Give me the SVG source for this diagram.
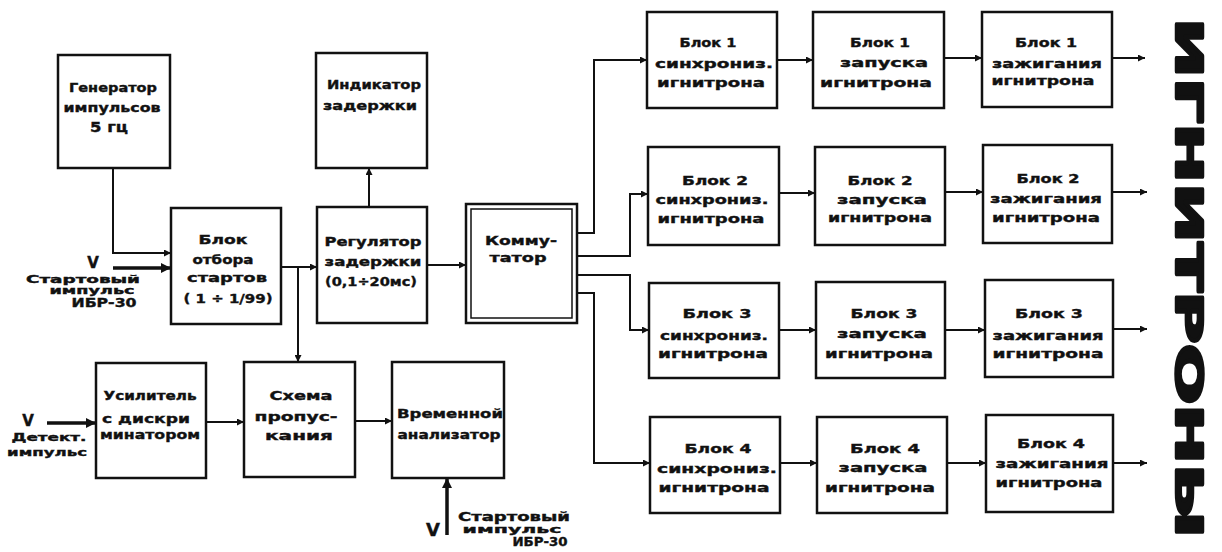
<svg xmlns="http://www.w3.org/2000/svg" width="1222" height="552" viewBox="0 0 1222 552">
<style>
.box{fill:#fff;stroke:#111;stroke-width:2.5}
.in{fill:none;stroke:#111;stroke-width:1.5}
.t{font-family:"DejaVu Sans","Liberation Sans",sans-serif;font-weight:bold;font-size:13px;text-anchor:middle;dominant-baseline:central;fill:#111;stroke:#111;stroke-width:0.4}
.s{font-size:11px}
.v{font-size:15px}
.ln{fill:none;stroke:#111;stroke-width:2}
.th{fill:none;stroke:#111;stroke-width:3.5}
</style>
<defs>
<marker id="a" viewBox="0 0 10 10" refX="10" refY="5" markerWidth="9" markerHeight="7" markerUnits="userSpaceOnUse" orient="auto"><path d="M0,0L10,5L0,10z" fill="#111"/></marker>
<marker id="b" viewBox="0 0 10 10" refX="10" refY="5" markerWidth="12" markerHeight="10" markerUnits="userSpaceOnUse" orient="auto"><path d="M0,0L10,5L0,10z" fill="#111"/></marker>
</defs>
<rect width="1222" height="552" fill="#fff"/>

<g id="gen"><rect class="box" x="58" y="55" width="112" height="113"/>
<text class="t" x="113" y="87" textLength="88" lengthAdjust="spacingAndGlyphs">Генератор</text>
<text class="t" x="112" y="107" textLength="97" lengthAdjust="spacingAndGlyphs">импульсов</text>
<text class="t" x="109" y="127" textLength="38" lengthAdjust="spacingAndGlyphs" style="font-size:14px">5 гц</text></g>

<g id="otbor"><rect class="box" x="171" y="208" width="110" height="116"/>
<text class="t" x="223" y="239" textLength="49" lengthAdjust="spacingAndGlyphs">Блок</text>
<text class="t" x="223" y="259" textLength="61" lengthAdjust="spacingAndGlyphs">отбора</text>
<text class="t" x="227" y="277" textLength="80" lengthAdjust="spacingAndGlyphs">стартов</text>
<text class="t" x="228" y="298" textLength="89" lengthAdjust="spacingAndGlyphs">( 1 ÷  1/99)</text></g>

<g id="ind"><rect class="box" x="316" y="53" width="111" height="115"/>
<text class="t" x="374" y="84" textLength="94" lengthAdjust="spacingAndGlyphs">Индикатор</text>
<text class="t" x="370" y="105" textLength="94" lengthAdjust="spacingAndGlyphs">задержки</text></g>

<g id="reg"><rect class="box" x="317" y="207" width="110" height="116"/>
<text class="t" x="373" y="241" textLength="97" lengthAdjust="spacingAndGlyphs">Регулятор</text>
<text class="t" x="373" y="261" textLength="97" lengthAdjust="spacingAndGlyphs">задержки</text>
<text class="t" x="371" y="281" textLength="92" lengthAdjust="spacingAndGlyphs">(0,1÷20мс)</text></g>

<g id="komm"><rect class="box" x="466" y="204" width="111" height="119"/>
<rect class="in" x="471" y="209" width="101" height="109"/>
<text class="t" x="521" y="240" textLength="72" lengthAdjust="spacingAndGlyphs">Комму-</text>
<text class="t" x="518" y="257" textLength="57" lengthAdjust="spacingAndGlyphs">татор</text></g>

<g id="sync1"><rect class="box" x="647" y="12" width="130" height="96"/>
<text class="t" x="708" y="42" textLength="57" lengthAdjust="spacingAndGlyphs">Блок 1</text>
<text class="t" x="714" y="63" textLength="118" lengthAdjust="spacingAndGlyphs">синхрониз.</text>
<text class="t" x="711" y="82" textLength="108" lengthAdjust="spacingAndGlyphs">игнитрона</text></g>
<g id="sync2"><rect class="box" x="648" y="147" width="131" height="98"/>
<text class="t" x="715" y="180" textLength="66" lengthAdjust="spacingAndGlyphs">Блок 2</text>
<text class="t" x="712" y="199" textLength="113" lengthAdjust="spacingAndGlyphs">синхрониз.</text>
<text class="t" x="711" y="218" textLength="107" lengthAdjust="spacingAndGlyphs">игнитрона</text></g>
<g id="sync3"><rect class="box" x="649" y="283" width="130" height="95"/>
<text class="t" x="717" y="313" textLength="69" lengthAdjust="spacingAndGlyphs">Блок 3</text>
<text class="t" x="714" y="335" textLength="108" lengthAdjust="spacingAndGlyphs">синхрониз.</text>
<text class="t" x="713" y="353" textLength="110" lengthAdjust="spacingAndGlyphs">игнитрона</text></g>
<g id="sync4"><rect class="box" x="650" y="417" width="130" height="96"/>
<text class="t" x="718" y="448" textLength="67" lengthAdjust="spacingAndGlyphs">Блок 4</text>
<text class="t" x="717" y="468" textLength="120" lengthAdjust="spacingAndGlyphs">синхрониз.</text>
<text class="t" x="714" y="487" textLength="111" lengthAdjust="spacingAndGlyphs">игнитрона</text></g>

<g id="zap1"><rect class="box" x="813" y="12" width="131" height="96"/>
<text class="t" x="880" y="42" textLength="60" lengthAdjust="spacingAndGlyphs">Блок 1</text>
<text class="t" x="884" y="62" textLength="88" lengthAdjust="spacingAndGlyphs">запуска</text>
<text class="t" x="876" y="82" textLength="112" lengthAdjust="spacingAndGlyphs">игнитрона</text></g>
<g id="zap2"><rect class="box" x="815" y="147" width="130" height="98"/>
<text class="t" x="880" y="180" textLength="65" lengthAdjust="spacingAndGlyphs">Блок 2</text>
<text class="t" x="882" y="199" textLength="90" lengthAdjust="spacingAndGlyphs">запуска</text>
<text class="t" x="880" y="217" textLength="104" lengthAdjust="spacingAndGlyphs">игнитрона</text></g>
<g id="zap3"><rect class="box" x="816" y="282" width="129" height="96"/>
<text class="t" x="884" y="313" textLength="67" lengthAdjust="spacingAndGlyphs">Блок 3</text>
<text class="t" x="882" y="333" textLength="90" lengthAdjust="spacingAndGlyphs">запуска</text>
<text class="t" x="879" y="353" textLength="108" lengthAdjust="spacingAndGlyphs">игнитрона</text></g>
<g id="zap4"><rect class="box" x="817" y="417" width="130" height="96"/>
<text class="t" x="885" y="448" textLength="70" lengthAdjust="spacingAndGlyphs">Блок 4</text>
<text class="t" x="883" y="467" textLength="89" lengthAdjust="spacingAndGlyphs">запуска</text>
<text class="t" x="880" y="487" textLength="110" lengthAdjust="spacingAndGlyphs">игнитрона</text></g>

<g id="zaz1"><rect class="box" x="982" y="12" width="130" height="95"/>
<text class="t" x="1046" y="42" textLength="62" lengthAdjust="spacingAndGlyphs">Блок 1</text>
<text class="t" x="1047" y="63" textLength="110" lengthAdjust="spacingAndGlyphs">зажигания</text>
<text class="t" x="1043" y="80" textLength="103" lengthAdjust="spacingAndGlyphs">игнитрона</text></g>
<g id="zaz2"><rect class="box" x="983" y="145" width="129" height="98"/>
<text class="t" x="1048" y="178" textLength="63" lengthAdjust="spacingAndGlyphs">Блок 2</text>
<text class="t" x="1046" y="198" textLength="112" lengthAdjust="spacingAndGlyphs">зажигания</text>
<text class="t" x="1046" y="217" textLength="108" lengthAdjust="spacingAndGlyphs">игнитрона</text></g>
<g id="zaz3"><rect class="box" x="985" y="280" width="128" height="97"/>
<text class="t" x="1049" y="313" textLength="68" lengthAdjust="spacingAndGlyphs">Блок 3</text>
<text class="t" x="1048" y="335" textLength="111" lengthAdjust="spacingAndGlyphs">зажигания</text>
<text class="t" x="1048" y="353" textLength="111" lengthAdjust="spacingAndGlyphs">игнитрона</text></g>
<g id="zaz4"><rect class="box" x="986" y="415" width="127" height="97"/>
<text class="t" x="1051" y="443" textLength="68" lengthAdjust="spacingAndGlyphs">Блок 4</text>
<text class="t" x="1052" y="463" textLength="113" lengthAdjust="spacingAndGlyphs">зажигания</text>
<text class="t" x="1049" y="482" textLength="107" lengthAdjust="spacingAndGlyphs">игнитрона</text></g>

<g id="usil"><rect class="box" x="96" y="363" width="110" height="115"/>
<text class="t" x="150" y="395" textLength="93" lengthAdjust="spacingAndGlyphs">Усилитель</text>
<text class="t" x="146" y="418" textLength="88" lengthAdjust="spacingAndGlyphs">с дискри</text>
<text class="t" x="150" y="434" textLength="100" lengthAdjust="spacingAndGlyphs">минатором</text></g>

<g id="shema"><rect class="box" x="244" y="362" width="111" height="115"/>
<text class="t" x="301" y="395" textLength="63" lengthAdjust="spacingAndGlyphs">Схема</text>
<text class="t" x="296" y="416" textLength="83" lengthAdjust="spacingAndGlyphs">пропус-</text>
<text class="t" x="299" y="435" textLength="68" lengthAdjust="spacingAndGlyphs">кания</text></g>

<g id="vrem"><rect class="box" x="392" y="362" width="112" height="116"/>
<text class="t" x="450" y="413" textLength="106" lengthAdjust="spacingAndGlyphs">Временной</text>
<text class="t" x="449" y="434" textLength="103" lengthAdjust="spacingAndGlyphs">анализатор</text></g>

<g id="lbl-start1">
<text class="t v" x="93" y="263">V</text>
<text class="t s" x="83" y="279" textLength="114" lengthAdjust="spacingAndGlyphs" style="font-size:10px">Стартовый</text>
<text class="t s" x="92" y="290" textLength="85" lengthAdjust="spacingAndGlyphs" style="font-size:10px">импульс</text>
<text class="t" x="104" y="303" textLength="65" lengthAdjust="spacingAndGlyphs" style="font-size:12px">ИБР-30</text></g>

<g id="lbl-detekt">
<text class="t v" x="28" y="421">V</text>
<text class="t s" x="49" y="437" textLength="75" lengthAdjust="spacingAndGlyphs">Детект.</text>
<text class="t s" x="47" y="452" textLength="80" lengthAdjust="spacingAndGlyphs">импульс</text></g>

<g id="lbl-start2">
<text class="t" x="433" y="529" style="font-size:18px">V</text>
<text class="t" x="514" y="517" textLength="112" lengthAdjust="spacingAndGlyphs" style="font-size:12px">Стартовый</text>
<text class="t s" x="512" y="529" textLength="99" lengthAdjust="spacingAndGlyphs">импульс</text>
<text class="t" x="540" y="542" textLength="55" lengthAdjust="spacingAndGlyphs" style="font-size:12px">ИБР-30</text></g>

<g id="title">
<text transform="translate(1176,278) rotate(90)" x="0" y="0" text-anchor="middle" textLength="520" lengthAdjust="spacingAndGlyphs" style="font-family:'DejaVu Sans','Liberation Sans',sans-serif;font-weight:bold;font-size:37px;fill:#111;stroke:#111;stroke-width:2.5;stroke-linejoin:round">ИГНИТРОНЫ</text></g>

<g id="connectors">
<path class="ln" d="M113,168V253H171" marker-end="url(#a)"/>
<path class="th" d="M113,268H171" marker-end="url(#b)"/>
<path class="ln" d="M281,267H317" marker-end="url(#a)"/>
<path class="ln" d="M298,267V362" marker-end="url(#a)"/>
<path class="ln" d="M369,207V168" marker-end="url(#a)"/>
<path class="ln" d="M427,265H466" marker-end="url(#a)"/>
<path class="ln" d="M577,233H594V60H647" marker-end="url(#a)"/>
<path class="ln" d="M577,256H630V194H648" marker-end="url(#a)"/>
<path class="ln" d="M577,275H630V330H649" marker-end="url(#a)"/>
<path class="ln" d="M577,293H594V463H650" marker-end="url(#a)"/>
<path class="ln" d="M777,60H813" marker-end="url(#a)"/>
<path class="ln" d="M944,58H982" marker-end="url(#a)"/>
<path class="ln" d="M1112,58H1145" marker-end="url(#a)"/>
<path class="ln" d="M779,193H815" marker-end="url(#a)"/>
<path class="ln" d="M945,192H983" marker-end="url(#a)"/>
<path class="ln" d="M1112,192H1147" marker-end="url(#a)"/>
<path class="ln" d="M779,330H816" marker-end="url(#a)"/>
<path class="ln" d="M945,330H985" marker-end="url(#a)"/>
<path class="ln" d="M1113,329H1147" marker-end="url(#a)"/>
<path class="ln" d="M780,463H817" marker-end="url(#a)"/>
<path class="ln" d="M947,463H986" marker-end="url(#a)"/>
<path class="ln" d="M1113,463H1147" marker-end="url(#a)"/>
<path class="th" d="M47,423H96" marker-end="url(#b)"/>
<path class="ln" d="M206,422H244" marker-end="url(#a)"/>
<path class="ln" d="M355,421H392" marker-end="url(#a)"/>
<path class="th" d="M447,535V478" marker-end="url(#b)"/>
</g>
</svg>
